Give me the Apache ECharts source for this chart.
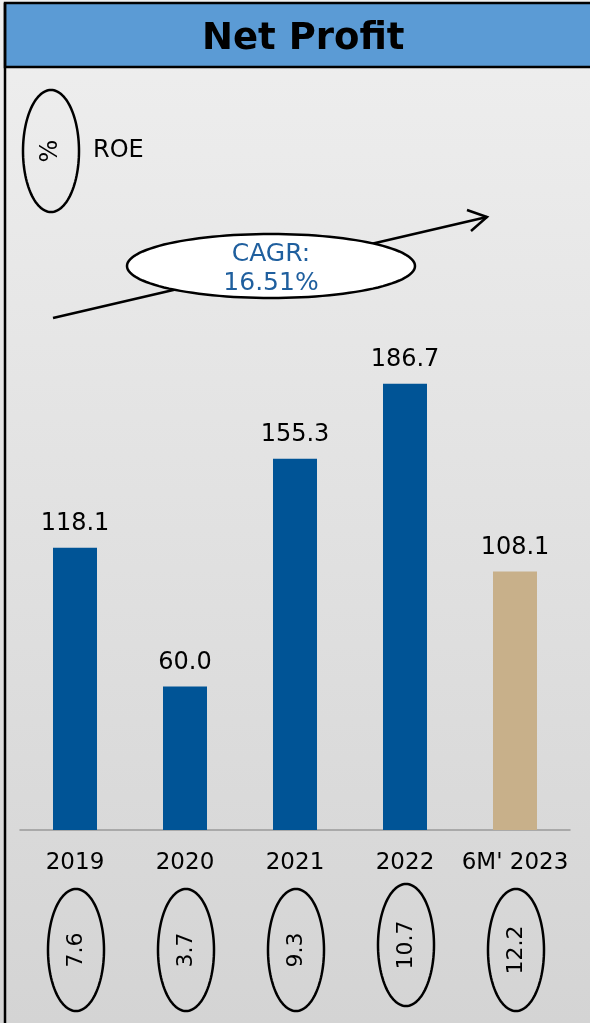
<!DOCTYPE html>
<html><head><meta charset="utf-8">
<style>html,body{margin:0;padding:0;background:#fff}#c{width:590px;height:1023px}</style>
<script src="https://cdn.jsdelivr.net/npm/echarts@6/dist/echarts.min.js"></script>
</head><body><div id="c"></div>
<script>
const categories = ['2019', '2020', '2021', '2022', "6M' 2023"];
const netProfit = [118.1, 60.0, 155.3, 186.7, 108.1];
const roeValues = ['7.6', '3.7', '9.3', '10.7', '12.2'];
const barColors = ['#005496', '#005496', '#005496', '#005496', '#C8B08A'];
const titleText = 'Net Profit';
const legendSymbol = '%';
const legendText = 'ROE';
const cagrLines = ['CAGR:', '16.51%'];

const FONT = 'DejaVu Sans';
const chart = echarts.init(document.getElementById('c'), null, {renderer: 'canvas'});

function ellipsePts(cx, cy, rx, ry) {
  const p = [];
  for (let i = 0; i < 120; i++) {
    const a = i / 120 * Math.PI * 2;
    p.push([cx + rx * Math.cos(a), cy + ry * Math.sin(a)]);
  }
  return p;
}

const staticGraphics = [
  {type: 'rect', z: -20, silent: true, shape: {x: 0, y: 0, width: 590, height: 1023},
   style: {fill: new echarts.graphic.LinearGradient(0, 0, 0, 1, [{offset: 0, color: '#EFEFEF'}, {offset: 1, color: '#D4D4D4'}])}},
  {type: 'rect', z: -5, silent: true, shape: {x: 5, y: 3, width: 600, height: 64},
   style: {fill: '#5B9BD5', stroke: '#000', lineWidth: 2.5}},
  {type: 'line', z: -5, silent: true, shape: {x1: 5, y1: 3, x2: 5, y2: 1030}, style: {stroke: '#000', lineWidth: 2.5}},
  // ROE legend
  {type: 'polygon', z: 10, shape: {points: ellipsePts(51, 151, 28, 61)}, style: {fill: 'none', stroke: '#000', lineWidth: 2.5}},
  {type: 'text', z: 11, x: 51, y: 151, rotation: Math.PI / 2,
   style: {text: legendSymbol, font: '24px "' + FONT + '"', fill: '#000', align: 'center', verticalAlign: 'middle'}},
  {type: 'text', z: 11, x: 93, y: 151,
   style: {text: legendText, font: '24px "' + FONT + '"', fill: '#000', align: 'left', verticalAlign: 'middle'}},
  // CAGR arrow
  {type: 'line', z: 10, shape: {x1: 53, y1: 318, x2: 487, y2: 217}, style: {stroke: '#000', lineWidth: 2.5}},
  {type: 'polyline', z: 10, shape: {points: [[467, 210], [487, 217], [471, 231]]}, style: {stroke: '#000', lineWidth: 2.5, fill: 'none'}},
  {type: 'polygon', z: 11, shape: {points: ellipsePts(271, 266, 144, 32)}, style: {fill: '#fff', stroke: '#000', lineWidth: 2.5}},
  {type: 'text', z: 12, x: 271, y: 254,
   style: {text: cagrLines[0], font: '25px "' + FONT + '"', fill: '#1F5F9E', align: 'center', verticalAlign: 'middle'}},
  {type: 'text', z: 12, x: 271, y: 283,
   style: {text: cagrLines[1], font: '25px "' + FONT + '"', fill: '#1F5F9E', align: 'center', verticalAlign: 'middle'}}
];

const option = {
  animation: false,
  backgroundColor: 'transparent',
  title: {
    text: titleText, left: 197, top: 16,
    textStyle: {fontFamily: FONT, fontWeight: 'bold', fontSize: 37, color: '#000'}
  },
  grid: {left: 20, right: 20, top: 65, bottom: 193, containLabel: false},
  xAxis: {
    type: 'category', data: categories,
    axisLine: {lineStyle: {color: '#999', width: 1.5}},
    axisTick: {show: false},
    axisLabel: {fontFamily: FONT, fontSize: 23, color: '#000', margin: 22, interval: 0}
  },
  yAxis: {type: 'value', min: 0, max: 320, show: false, splitLine: {show: false}},
  series: [{
    type: 'bar',
    barWidth: 44,
    data: netProfit.map((v, i) => ({value: v, itemStyle: {color: barColors[i]}})),
    label: {show: true, position: 'top', distance: 12, formatter: p => p.value.toFixed(1),
      fontFamily: FONT, fontSize: 24, color: '#000'}
  }],
  graphic: staticGraphics
};
chart.setOption(option);

// ROE ellipses placed at the category positions from the x axis scale
const roeGraphics = [];
categories.forEach((c, i) => {
  const x = chart.convertToPixel({xAxisIndex: 0}, c) + 1;
  const cy = i === 3 ? 945 : 950;
  roeGraphics.push({type: 'polygon', z: 10, shape: {points: ellipsePts(x, cy, 28, 61)},
    style: {fill: 'none', stroke: '#000', lineWidth: 2.5}});
  roeGraphics.push({type: 'text', z: 11, x: x, y: cy, rotation: Math.PI / 2,
    style: {text: roeValues[i], font: '22px "' + FONT + '"', fill: '#000', align: 'center', verticalAlign: 'middle'}});
});
chart.setOption({graphic: staticGraphics.concat(roeGraphics)});
</script></body></html>
